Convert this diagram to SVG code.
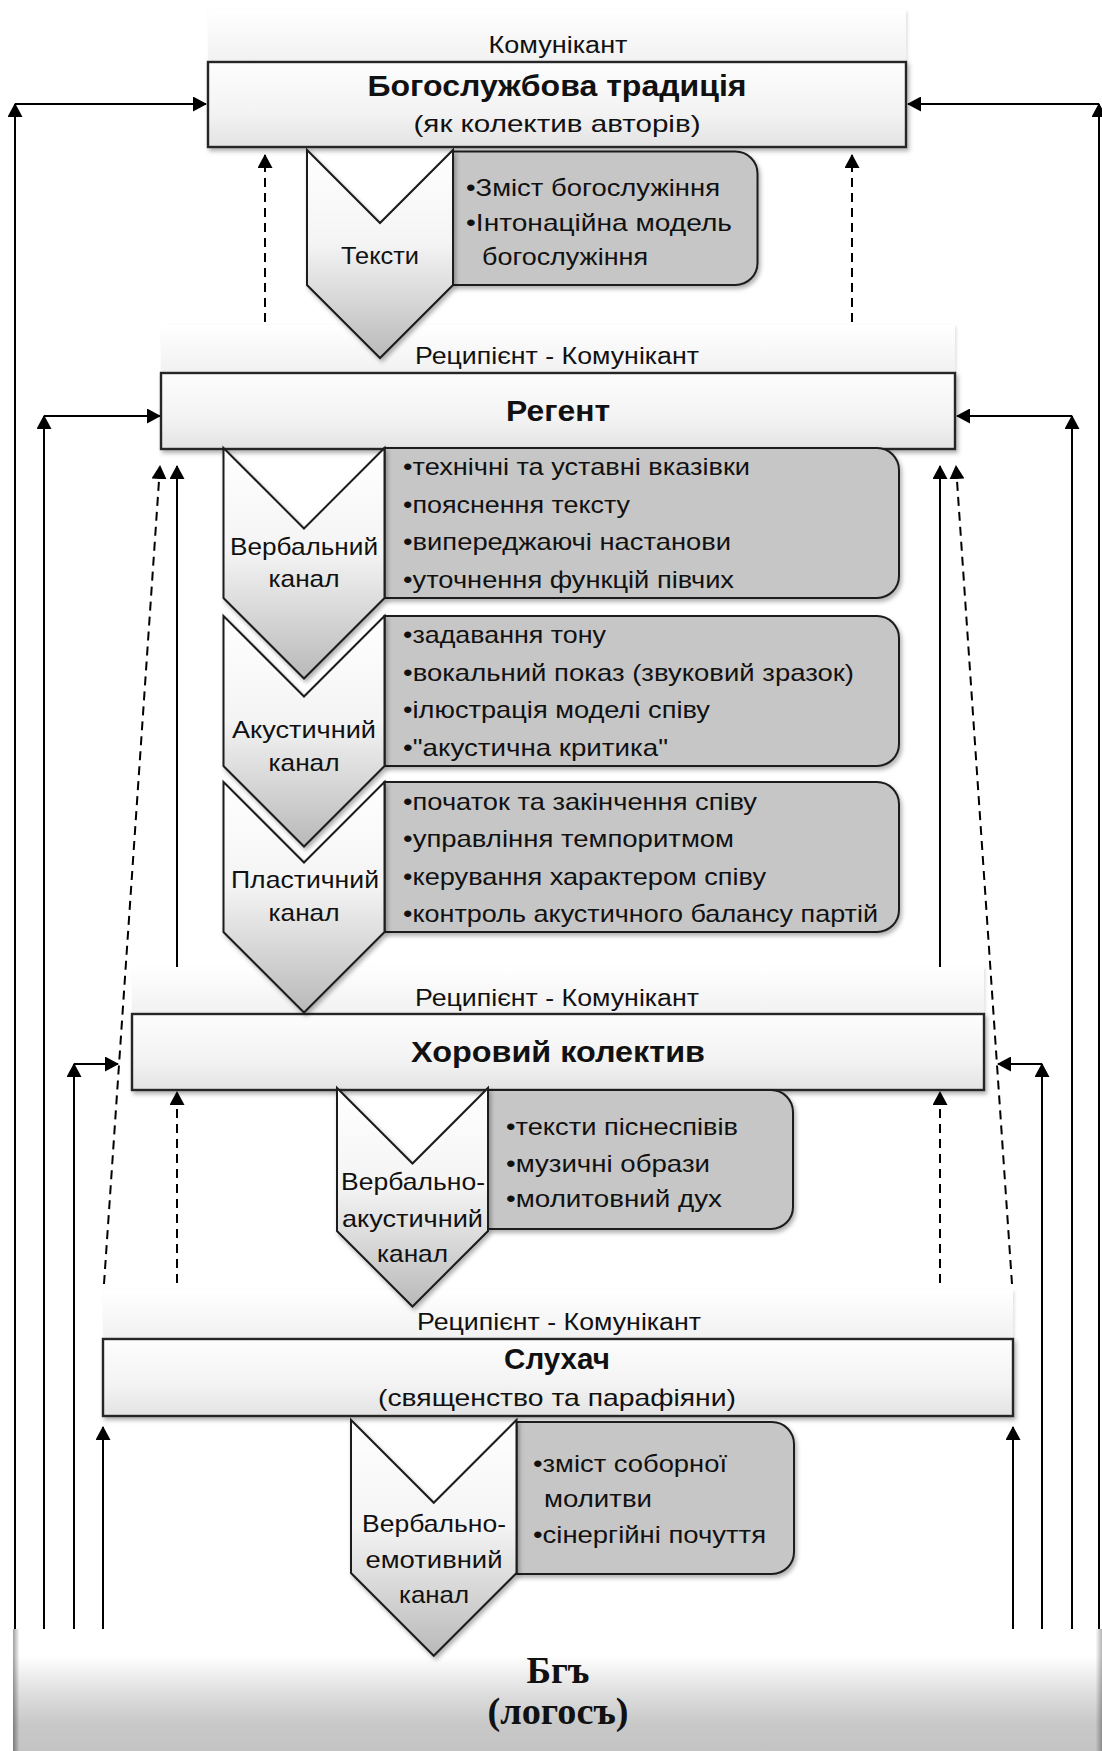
<svg xmlns="http://www.w3.org/2000/svg" width="1102" height="1751" viewBox="0 0 1102 1751">
<defs>
  <linearGradient id="gMain" x1="0" y1="0" x2="0" y2="1">
    <stop offset="0" stop-color="#fdfdfd"/>
    <stop offset="0.6" stop-color="#f3f3f3"/>
    <stop offset="1" stop-color="#e3e3e3"/>
  </linearGradient>
  <linearGradient id="gLabel" x1="0" y1="0" x2="0" y2="1">
    <stop offset="0" stop-color="#ffffff"/>
    <stop offset="1" stop-color="#f1f1f1"/>
  </linearGradient>
  <linearGradient id="gChev" x1="0" y1="0" x2="0" y2="1">
    <stop offset="0" stop-color="#ffffff"/>
    <stop offset="0.45" stop-color="#f4f4f4"/>
    <stop offset="1" stop-color="#b9b9b9"/>
  </linearGradient>
  <linearGradient id="gBottom" x1="0" y1="0" x2="0" y2="1">
    <stop offset="0" stop-color="#ffffff"/>
    <stop offset="0.22" stop-color="#ffffff"/>
    <stop offset="0.55" stop-color="#dcdcdc"/>
    <stop offset="0.78" stop-color="#c8c8c8"/>
    <stop offset="1" stop-color="#c4c4c4"/>
  </linearGradient>
  <linearGradient id="gEdge" x1="0" y1="0" x2="1" y2="0">
    <stop offset="0" stop-color="#000" stop-opacity="0.38"/>
    <stop offset="0.006" stop-color="#000" stop-opacity="0"/>
    <stop offset="0.994" stop-color="#000" stop-opacity="0"/>
    <stop offset="1" stop-color="#000" stop-opacity="0.3"/>
  </linearGradient>
  <filter id="sh" x="-5%" y="-10%" width="112%" height="130%">
    <feDropShadow dx="2" dy="3" stdDeviation="2" flood-color="#000" flood-opacity="0.3"/>
  </filter>
  <filter id="shl" x="-5%" y="-10%" width="112%" height="130%">
    <feDropShadow dx="1.5" dy="1.5" stdDeviation="1.5" flood-color="#000" flood-opacity="0.12"/>
  </filter>
  <marker id="ah" markerUnits="userSpaceOnUse" markerWidth="14" markerHeight="15" refX="13" refY="7.5" orient="auto" viewBox="0 0 14 15">
    <path d="M0,0 L14,7.5 L0,15 Z" fill="#000"/>
  </marker>
  <style>
    .lab { fill: url(#gLabel); filter: url(#shl); }
    .main { fill: url(#gMain); stroke: #262626; stroke-width: 2.4; filter: url(#sh); }
    .grey { fill: #c6c6c6; stroke: #1c1c1c; stroke-width: 2; filter: url(#sh); }
    .chev { fill: url(#gChev); stroke: #1a1a1a; stroke-width: 2; stroke-linejoin: miter; filter: url(#sh); }
    .ln { fill: none; stroke: #000; stroke-width: 2; marker-end: url(#ah); }
    .dl { fill: none; stroke: #000; stroke-width: 2; stroke-dasharray: 9 6; marker-end: url(#ah); }
    text { font-family: "Liberation Sans", Arial, sans-serif; fill: #111; }
    .t-lab { font-size: 23px; text-anchor: middle; }
    .t-title { font-size: 30px; font-weight: bold; text-anchor: middle; }
    .t-sub { font-size: 24px; text-anchor: middle; }
    .t-chev { font-size: 24px; text-anchor: middle; }
    .t-b { font-size: 24px; }
    .t-god { font-family: "Liberation Serif", "Times New Roman", serif; font-size: 38px; font-weight: bold; text-anchor: middle; }
  </style>
</defs>

<rect width="1102" height="1751" fill="#ffffff"/>

<g id="connectors">
  <path class="ln" d="M15 1629 V104"/>
  <path class="ln" d="M15 104 H206"/>
  <path class="ln" d="M1099 1629 V104"/>
  <path class="ln" d="M1099 104 H908"/>
  <path class="ln" d="M44 1629 V416"/>
  <path class="ln" d="M44 416 H160"/>
  <path class="ln" d="M1072 1629 V416"/>
  <path class="ln" d="M1072 416 H957"/>
  <path class="ln" d="M74 1629 V1064"/>
  <path class="ln" d="M74 1064 H118"/>
  <path class="ln" d="M1042 1629 V1064"/>
  <path class="ln" d="M1042 1064 H998"/>
  <path class="ln" d="M103 1629 V1427"/>
  <path class="ln" d="M1013 1629 V1427"/>
  <path class="dl" d="M265 322 V155"/>
  <path class="dl" d="M852 322 V155"/>
  <path class="ln" d="M177 967 V466"/>
  <path class="ln" d="M940 967 V466"/>
  <path class="dl" d="M104 1284 L160 466"/>
  <path class="dl" d="M1012 1284 L956 466"/>
  <path class="dl" d="M177 1283 V1092"/>
  <path class="dl" d="M940 1283 V1092"/>
</g>

<g id="node-tradition">
  <rect class="lab" x="208" y="10" width="698" height="52"/>
  <rect class="main" x="208" y="62" width="698" height="85"/>
  <text class="t-lab" x="558" y="53" textLength="139" lengthAdjust="spacingAndGlyphs">Комунікант</text>
  <text class="t-title" x="557" y="96" textLength="379" lengthAdjust="spacingAndGlyphs">Богослужбова традиція</text>
  <text class="t-sub" x="557" y="132" textLength="287" lengthAdjust="spacingAndGlyphs">(як колектив авторів)</text>
</g>

<g id="node-regent">
  <rect class="lab" x="161" y="325" width="794" height="48"/>
  <rect class="main" x="161" y="373" width="794" height="76"/>
  <text class="t-lab" x="557" y="364" textLength="284" lengthAdjust="spacingAndGlyphs">Реципієнт - Комунікант</text>
  <text class="t-title" x="558" y="421" textLength="104" lengthAdjust="spacingAndGlyphs">Регент</text>
</g>

<g id="node-choir">
  <rect class="lab" x="132" y="967" width="852" height="47"/>
  <rect class="main" x="132" y="1014" width="852" height="76"/>
  <text class="t-lab" x="557" y="1005.5" textLength="284" lengthAdjust="spacingAndGlyphs">Реципієнт - Комунікант</text>
  <text class="t-title" x="558" y="1062" textLength="294" lengthAdjust="spacingAndGlyphs">Хоровий колектив</text>
</g>

<g id="node-listener">
  <rect class="lab" x="103" y="1290" width="910" height="49"/>
  <rect class="main" x="103" y="1339" width="910" height="77"/>
  <text class="t-lab" x="559" y="1330" textLength="284" lengthAdjust="spacingAndGlyphs">Реципієнт - Комунікант</text>
  <text class="t-title" x="557" y="1369" textLength="106" lengthAdjust="spacingAndGlyphs">Слухач</text>
  <text class="t-sub" x="557" y="1406" textLength="358" lengthAdjust="spacingAndGlyphs">(священство та парафіяни)</text>
</g>

<g id="node-god">
  <rect x="13" y="1629" width="1089" height="122" fill="url(#gBottom)"/>
  <rect x="13" y="1629" width="1089" height="122" fill="url(#gEdge)"/>
  <text class="t-god" x="558" y="1683" textLength="63" lengthAdjust="spacingAndGlyphs">Бгъ</text>
  <text class="t-god" x="558" y="1724" textLength="141" lengthAdjust="spacingAndGlyphs">(логосъ)</text>
</g>

<g id="node-texts">
  <path class="grey" d="M453 151.5 H735.5 A22 22 0 0 1 757.5 173.5 V263 A22 22 0 0 1 735.5 285 H453 Z"/>
  <path class="chev" d="M307 150 L380 223 L453 150 L453 285 L380 358 L307 285 Z"/>
  <text class="t-chev" x="380" y="264" textLength="78" lengthAdjust="spacingAndGlyphs">Тексти</text>
  <text class="t-b" x="466" y="196" textLength="254" lengthAdjust="spacingAndGlyphs">•Зміст богослужіння</text>
  <text class="t-b" x="466" y="231" textLength="266" lengthAdjust="spacingAndGlyphs">•Інтонаційна модель</text>
  <text class="t-b" x="482" y="265" textLength="166" lengthAdjust="spacingAndGlyphs">богослужіння</text>
</g>

<g id="node-verbal">
  <path class="grey" d="M384.5 448 H877 A22 22 0 0 1 899 470 V576 A22 22 0 0 1 877 598 H384.5 Z"/>
  <path class="chev" d="M223.5 448 L304 528.5 L384.5 448 L384.5 598 L304 678.5 L223.5 598 Z"/>
  <text class="t-chev" x="304" y="555" textLength="148" lengthAdjust="spacingAndGlyphs">Вербальний</text>
  <text class="t-chev" x="304" y="587" textLength="71" lengthAdjust="spacingAndGlyphs">канал</text>
  <text class="t-b" x="403" y="475" textLength="347" lengthAdjust="spacingAndGlyphs">•технічні та уставні вказівки</text>
  <text class="t-b" x="403" y="512.5" textLength="227" lengthAdjust="spacingAndGlyphs">•пояснення тексту</text>
  <text class="t-b" x="403" y="550" textLength="328" lengthAdjust="spacingAndGlyphs">•випереджаючі настанови</text>
  <text class="t-b" x="403" y="587.5" textLength="331" lengthAdjust="spacingAndGlyphs">•уточнення функцій півчих</text>
</g>

<g id="node-acoustic">
  <path class="grey" d="M384.5 616 H877 A22 22 0 0 1 899 638 V744 A22 22 0 0 1 877 766 H384.5 Z"/>
  <path class="chev" d="M223.5 616 L304 696.5 L384.5 616 L384.5 766 L304 846.5 L223.5 766 Z"/>
  <text class="t-chev" x="304" y="738" textLength="144" lengthAdjust="spacingAndGlyphs">Акустичний</text>
  <text class="t-chev" x="304" y="770.5" textLength="71" lengthAdjust="spacingAndGlyphs">канал</text>
  <text class="t-b" x="403" y="643" textLength="203" lengthAdjust="spacingAndGlyphs">•задавання тону</text>
  <text class="t-b" x="403" y="680.5" textLength="451" lengthAdjust="spacingAndGlyphs">•вокальний показ (звуковий зразок)</text>
  <text class="t-b" x="403" y="718" textLength="307" lengthAdjust="spacingAndGlyphs">•ілюстрація моделі співу</text>
  <text class="t-b" x="403" y="755.5" textLength="265" lengthAdjust="spacingAndGlyphs">•"акустична критика"</text>
</g>

<g id="node-plastic">
  <path class="grey" d="M384.5 782 H877 A22 22 0 0 1 899 804 V910 A22 22 0 0 1 877 932 H384.5 Z"/>
  <path class="chev" d="M223.5 782 L304 862.5 L384.5 782 L384.5 932 L304 1012.5 L223.5 932 Z"/>
  <text class="t-chev" x="305" y="888" textLength="148" lengthAdjust="spacingAndGlyphs">Пластичний</text>
  <text class="t-chev" x="304" y="921" textLength="71" lengthAdjust="spacingAndGlyphs">канал</text>
  <text class="t-b" x="403" y="810" textLength="354" lengthAdjust="spacingAndGlyphs">•початок та закінчення співу</text>
  <text class="t-b" x="403" y="847" textLength="331" lengthAdjust="spacingAndGlyphs">•управління темпоритмом</text>
  <text class="t-b" x="403" y="885" textLength="363" lengthAdjust="spacingAndGlyphs">•керування характером співу</text>
  <text class="t-b" x="403" y="922" textLength="475" lengthAdjust="spacingAndGlyphs">•контроль акустичного балансу партій</text>
</g>

<g id="node-verbal-acoustic">
  <path class="grey" d="M488 1090 H771 A22 22 0 0 1 793 1112 V1207 A22 22 0 0 1 771 1229 H488 Z"/>
  <path class="chev" d="M337 1088 L412.5 1163.5 L488 1088 L488 1231 L412.5 1306.5 L337 1231 Z"/>
  <text class="t-chev" x="413" y="1190" textLength="144" lengthAdjust="spacingAndGlyphs">Вербально-</text>
  <text class="t-chev" x="412.5" y="1226.5" textLength="141" lengthAdjust="spacingAndGlyphs">акустичний</text>
  <text class="t-chev" x="412.5" y="1261.5" textLength="71" lengthAdjust="spacingAndGlyphs">канал</text>
  <text class="t-b" x="506" y="1135" textLength="232" lengthAdjust="spacingAndGlyphs">•тексти піснеспівів</text>
  <text class="t-b" x="506" y="1171.5" textLength="204" lengthAdjust="spacingAndGlyphs">•музичні образи</text>
  <text class="t-b" x="506" y="1206.5" textLength="216" lengthAdjust="spacingAndGlyphs">•молитовний дух</text>
</g>

<g id="node-verbal-emotive">
  <path class="grey" d="M516.5 1422 H772 A22 22 0 0 1 794 1444 V1552 A22 22 0 0 1 772 1574 H516.5 Z"/>
  <path class="chev" d="M351 1420 L433.75 1502.75 L516.5 1420 L516.5 1573 L433.75 1655.75 L351 1573 Z"/>
  <text class="t-chev" x="434" y="1531.5" textLength="144" lengthAdjust="spacingAndGlyphs">Вербально-</text>
  <text class="t-chev" x="434" y="1568" textLength="137" lengthAdjust="spacingAndGlyphs">емотивний</text>
  <text class="t-chev" x="434" y="1603" textLength="70" lengthAdjust="spacingAndGlyphs">канал</text>
  <text class="t-b" x="533" y="1471.5" textLength="194" lengthAdjust="spacingAndGlyphs">•зміст соборної</text>
  <text class="t-b" x="544" y="1506.5" textLength="108" lengthAdjust="spacingAndGlyphs">молитви</text>
  <text class="t-b" x="533" y="1543" textLength="233" lengthAdjust="spacingAndGlyphs">•сінергійні почуття</text>
</g>
</svg>
